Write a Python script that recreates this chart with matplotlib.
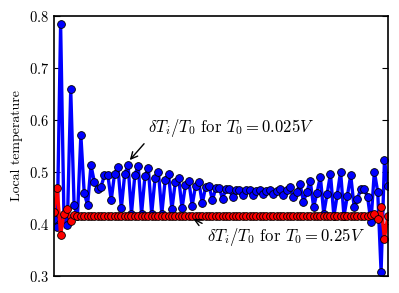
import numpy as np
import matplotlib
matplotlib.use("Agg")
import matplotlib.pyplot as plt

plt.rcParams["font.family"] = "serif"
plt.rcParams["font.serif"] = ["cmr10", "DejaVu Serif"]
plt.rcParams["mathtext.fontset"] = "cm"
plt.rcParams["axes.formatter.use_mathtext"] = True

# site index (0..99) and local temperature for the two drives
temp_low = [  # T0 = 0.025V (blue)
    0.410, 0.395, 0.785, 0.410, 0.398, 0.659, 0.436, 0.415, 0.571, 0.459,
    0.437, 0.513, 0.481, 0.468, 0.472, 0.494, 0.494, 0.446, 0.497, 0.509,
    0.430, 0.496, 0.513, 0.420, 0.494, 0.512, 0.420, 0.492, 0.507, 0.420,
    0.488, 0.500, 0.420, 0.485, 0.496, 0.428, 0.481, 0.488, 0.430, 0.475,
    0.483, 0.435, 0.474, 0.480, 0.440, 0.472, 0.474, 0.446, 0.469, 0.470,
    0.449, 0.467, 0.467, 0.452, 0.465, 0.465, 0.456, 0.465, 0.465, 0.456,
    0.463, 0.465, 0.457, 0.463, 0.465, 0.457, 0.463, 0.467, 0.456, 0.465,
    0.472, 0.452, 0.462, 0.477, 0.443, 0.462, 0.483, 0.433, 0.460, 0.491,
    0.420, 0.458, 0.497, 0.415, 0.456, 0.501, 0.415, 0.454, 0.494, 0.433,
    0.449, 0.467, 0.467, 0.452, 0.404, 0.501, 0.462, 0.308, 0.524, 0.473,
]
temp_high = [  # T0 = 0.25V (red)
    0.424, 0.469, 0.379, 0.420, 0.429, 0.406, 0.417, 0.415, 0.415, 0.415,
    0.415, 0.415, 0.415, 0.415, 0.415, 0.415, 0.415, 0.415, 0.415, 0.415,
    0.415, 0.415, 0.415, 0.415, 0.415, 0.415, 0.415, 0.415, 0.415, 0.415,
    0.415, 0.415, 0.415, 0.415, 0.415, 0.415, 0.415, 0.415, 0.415, 0.415,
    0.415, 0.415, 0.415, 0.415, 0.415, 0.415, 0.415, 0.415, 0.415, 0.415,
    0.415, 0.415, 0.415, 0.415, 0.415, 0.415, 0.415, 0.415, 0.415, 0.415,
    0.415, 0.415, 0.415, 0.415, 0.415, 0.415, 0.415, 0.415, 0.415, 0.415,
    0.415, 0.415, 0.415, 0.415, 0.415, 0.415, 0.415, 0.415, 0.415, 0.415,
    0.415, 0.415, 0.415, 0.415, 0.415, 0.415, 0.415, 0.415, 0.415, 0.415,
    0.415, 0.415, 0.415, 0.415, 0.417, 0.420, 0.409, 0.432, 0.372, 0.415,
]
sites = np.arange(len(temp_low))

fig = plt.figure(figsize=(3.99, 2.93), dpi=100)
ax = fig.add_axes([0.135, 0.058, 0.837, 0.887])

ax.plot(sites, temp_low, "o-", color="b", lw=2.4, ms=5.6, mec="k", mew=0.6)
ax.plot(sites, temp_high, "o-", color="r", lw=2.4, ms=5.6, mec="k", mew=0.6)

ax.annotate(r"$\delta T_i/T_0$ for $T_0=0.025V$", xy=(22.5, 0.523),
            xytext=(28, 0.585), fontsize=12, va="center", ha="left",
            arrowprops=dict(arrowstyle="->", color="k", lw=1,
                            relpos=(0, 0), shrinkA=2, shrinkB=0))
ax.annotate(r"$\delta T_i/T_0$ for $T_0=0.25V$", xy=(41.3, 0.41),
            xytext=(45.5, 0.375), fontsize=12, va="center", ha="left",
            arrowprops=dict(arrowstyle="->", color="k", lw=1,
                            relpos=(0, 1), shrinkA=2, shrinkB=0))

ax.set_xlim(0, 99)
ax.set_ylim(0.3, 0.8)
ax.set_xticks([])
ax.set_yticks([0.3, 0.4, 0.5, 0.6, 0.7, 0.8])
ax.tick_params(axis="y", direction="in", right=True, length=4, labelsize=10.5)
ax.set_ylabel("Local temperature", fontsize=10)
for s in ax.spines.values():
    s.set_linewidth(1.2)

fig.savefig("out.png", dpi=100)
